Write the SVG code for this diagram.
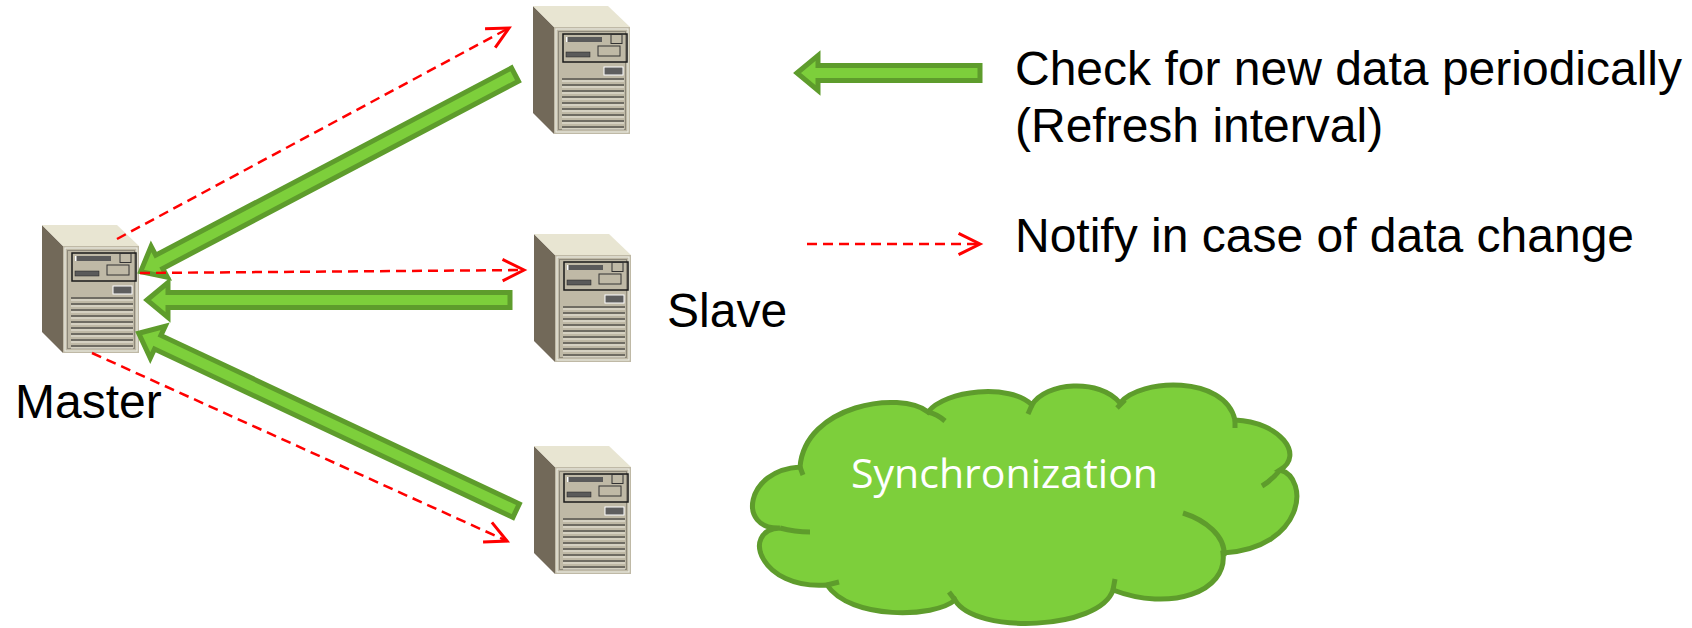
<svg xmlns="http://www.w3.org/2000/svg" xmlns:xlink="http://www.w3.org/1999/xlink" width="1692" height="628" viewBox="0 0 1692 628">
<style>
.lbl{font-family:"Liberation Sans",Arial,sans-serif;font-size:48px;fill:#000}
.sync{font-family:"Open Sans","Noto Sans",sans-serif;font-size:41px;fill:#fff}
.garrow{fill:#7dcf3b;stroke:#5e9c2c;stroke-width:5;stroke-linejoin:miter}
.dash{fill:none;stroke:#ff0000;stroke-width:2.5;stroke-dasharray:10 6;marker-end:url(#chev)}
.cloud{fill:#7dcf3b;stroke:#5e9c2c;stroke-width:5}
.seam{fill:none;stroke:#5e9c2c;stroke-width:5}
.vent{stroke:#55534c;stroke-width:1.3}
.ventl{stroke:#ebe8dd;stroke-width:1}
</style>
<defs>
<marker id="chev" markerUnits="userSpaceOnUse" markerWidth="30" markerHeight="30" viewBox="-24 -14 28 28" refX="0" refY="0" orient="auto">
<path d="M-20,-10 L0,0 L-20,10" fill="none" stroke="#ff0000" stroke-width="2.8"/>
</marker>
<symbol id="srv" overflow="visible">
<polygon points="0,0 21,21 21,128 0,107" fill="#726959"/>
<polygon points="0,0 75,0 97,21 21,21" fill="#e8e5d2"/>
<rect x="21" y="21" width="76" height="107" fill="#bfb9a6"/>
<rect x="23" y="23" width="72" height="103" fill="none" stroke="#ecebe2" stroke-width="1.2"/>
<rect x="25.5" y="25.5" width="67" height="98" fill="none" stroke="#8d887a" stroke-width="1"/>
<rect x="30" y="28" width="64" height="28" fill="none" stroke="#1a1a1a" stroke-width="1.5"/>
<rect x="33" y="31" width="36" height="5" fill="#5a5a5a"/>
<rect x="33" y="31" width="1.5" height="5" fill="#fff"/>
<rect x="78" y="28.5" width="11" height="9" fill="none" stroke="#333" stroke-width="1"/>
<rect x="33" y="46" width="24" height="5" fill="#5a5a5a" stroke="#222" stroke-width="0.5"/>
<rect x="65" y="40" width="22" height="10" fill="none" stroke="#333" stroke-width="1"/>
<rect x="71" y="61" width="19" height="8" fill="#5e5e5e" stroke="#fff" stroke-width="1"/>
<g class="vent">
<line x1="29" y1="73" x2="91" y2="73"/><line x1="29" y1="79" x2="91" y2="79"/><line x1="29" y1="85" x2="91" y2="85"/>
<line x1="29" y1="91" x2="91" y2="91"/><line x1="29" y1="97" x2="91" y2="97"/><line x1="29" y1="103" x2="91" y2="103"/>
<line x1="29" y1="109" x2="91" y2="109"/><line x1="29" y1="115" x2="91" y2="115"/><line x1="29" y1="121" x2="91" y2="121"/>
</g>
<g class="ventl">
<line x1="29" y1="75" x2="91" y2="75"/><line x1="29" y1="81" x2="91" y2="81"/><line x1="29" y1="87" x2="91" y2="87"/>
<line x1="29" y1="93" x2="91" y2="93"/><line x1="29" y1="99" x2="91" y2="99"/><line x1="29" y1="105" x2="91" y2="105"/>
<line x1="29" y1="111" x2="91" y2="111"/><line x1="29" y1="117" x2="91" y2="117"/><line x1="29" y1="123" x2="91" y2="123"/>
</g>
</symbol>
</defs>
<rect width="1692" height="628" fill="#fff"/>

<g id="master">
<use xlink:href="#srv" href="#srv" x="42" y="225"/>
<text class="lbl" x="15" y="418">Master</text>
</g>
<g id="slave1"><use xlink:href="#srv" href="#srv" x="533" y="6"/></g>
<g id="slave2">
<use xlink:href="#srv" href="#srv" x="534" y="234"/>
<text class="lbl" x="667" y="327">Slave</text>
</g>
<g id="slave3"><use xlink:href="#srv" href="#srv" x="534" y="446"/></g>

<g id="connectors">
<polygon class="garrow" transform="translate(138,273) rotate(-27.76)" points="3,0 24,-17.5 24,-7.5 426,-7.5 426,7.5 24,7.5 24,17.5"/>
<polygon class="garrow" transform="translate(144,300)" points="3,0 24,-17.5 24,-7.5 366,-7.5 366,7.5 24,7.5 24,17.5"/>
<polygon class="garrow" transform="translate(136,332) rotate(25.17)" points="3,0 24,-17.5 24,-7.5 420,-7.5 420,7.5 24,7.5 24,17.5"/>
<path class="dash" d="M117,239 L509,28"/>
<path class="dash" d="M140,273 L524,270"/>
<path class="dash" d="M92,353 L507,541"/>
</g>

<g id="legend">
<polygon class="garrow" transform="translate(794,73)" points="3,0 24,-17.5 24,-7.5 186,-7.5 186,7.5 24,7.5 24,17.5"/>
<text class="lbl" x="1015" y="85">Check for new data periodically</text>
<text class="lbl" x="1015" y="142">(Refresh interval)</text>
<path class="dash" d="M807,244 L980,244"/>
<text class="lbl" x="1015" y="252">Notify in case of data change</text>
</g>

<g id="sync-cloud">
<path class="cloud" d="M780,528 C737,530 745,470 800,467 C805,405 900,390 928,412 C945,390 1010,383 1032,405 C1045,382 1100,378 1120,403 C1140,378 1225,375 1235,420 C1280,422 1305,455 1280,470 C1310,478 1305,548 1223,553 C1228,592 1170,612 1113,590 C1100,630 975,635 955,600 C935,618 850,620 827,585 C760,590 740,530 780,528 Z"/>
<path class="seam" d="M780,528 Q795,532 810,532"/>
<path class="seam" d="M800,467 L803,475"/>
<path class="seam" d="M928,412 Q937,414 945,421"/>
<path class="seam" d="M1032,405 L1028,414"/>
<path class="seam" d="M1125,400 L1117,408"/>
<path class="seam" d="M1235,420 L1235,428"/>
<path class="seam" d="M1280,470 Q1272,480 1262,486"/>
<path class="seam" d="M1183,513 C1205,520 1226,536 1224,556"/>
<path class="seam" d="M1113,590 L1115,579"/>
<path class="seam" d="M955,600 L949,592"/>
<path class="seam" d="M827,585 L839,582"/>
<text class="sync" x="851" y="488" textLength="307" lengthAdjust="spacingAndGlyphs">Synchronization</text>
</g>
</svg>
